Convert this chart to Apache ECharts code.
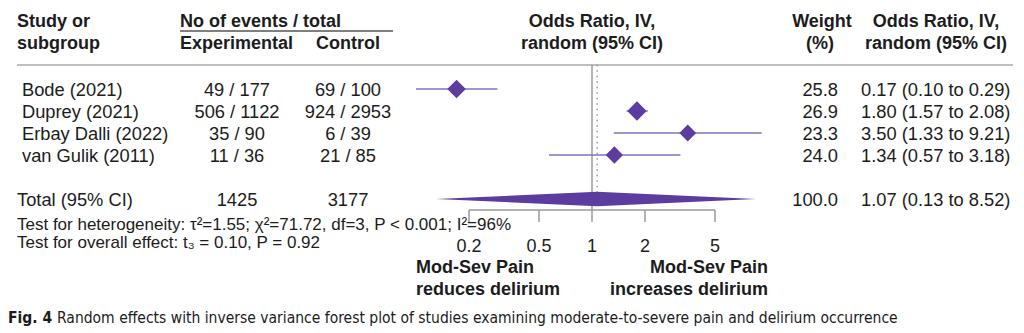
<!DOCTYPE html>
<html><head><meta charset="utf-8">
<script src="https://cdn.jsdelivr.net/npm/echarts@6/dist/echarts.min.js"></script>
<style>html,body{margin:0;padding:0;background:#fff}#c{width:1024px;height:333px}</style>
</head><body><div id="c"></div>
<script>
// ---- data ----
const studies = ['Bode (2021)', 'Duprey (2021)', 'Erbay Dalli (2022)', 'van Gulik (2011)'];
const expEvents = ['49 / 177', '506 / 1122', '35 / 90', '11 / 36'];
const ctrlEvents = ['69 / 100', '924 / 2953', '6 / 39', '21 / 85'];
const orEst = [0.17, 1.80, 3.50, 1.34];
const orLo = [0.10, 1.57, 1.33, 0.57];
const orHi = [0.29, 2.08, 9.21, 3.18];
const weights = [25.8, 26.9, 23.3, 24.0];
const orText = ['0.17 (0.10 to 0.29)', '1.80 (1.57 to 2.08)', '3.50 (1.33 to 9.21)', '1.34 (0.57 to 3.18)'];
const totalLabel = 'Total (95% CI)';
const totalExp = '1425';
const totalCtrl = '3177';
const totalWeight = '100.0';
const totalEst = 1.07, totalLo = 0.13, totalHi = 8.52;
const totalOrText = '1.07 (0.13 to 8.52)';
const heterogeneity = 'Test for heterogeneity: τ²=1.55; χ²=71.72, df=3, P < 0.001; I²=96%';
const overallEffect = 'Test for overall effect: t₃ = 0.10, P = 0.92';
const axisTicks = [0.2, 0.5, 1, 2, 5];
const axisTickLabels = ['0.2', '0.5', '1', '2', '5'];
const leftNote = ['Mod-Sev Pain', 'reduces delirium'];
const rightNote = ['Mod-Sev Pain', 'increases delirium'];
const caption = 'Random effects with inverse variance forest plot of studies examining moderate-to-severe pain and delirium occurrence';

// ---- styles ----
const FONT = '"Liberation Sans", Arial, sans-serif';
const TXT = '#1c1c1c';
const PURPLE = '#5c3c9e';
const PURPLE_LINE = '#8270c0';
const GREY = '#9a9a9a';
const TOTAL_ROW = 5;
const Y_MIN = -1.1, Y_MAX = 5.5;

const chart = echarts.init(document.getElementById('c'), null, {renderer: 'svg'});

const ciData = studies.map((s, i) => [orLo[i], i, orHi[i]]);
const ptData = studies.map((s, i) => [orEst[i], i, weights[i]]);

chart.setOption({
  animation: false,
  grid: {left: 363, width: 458, top: 64.8, height: 145.2},
  xAxis: {type: 'log', logBase: 10, min: 0.05, max: 20, show: false},
  yAxis: {type: 'value', inverse: true, min: Y_MIN, max: Y_MAX, show: false},
  series: [
    { // reference line at OR = 1
      type: 'custom', data: [[1, Y_MIN, Y_MAX]], encode: {x: 0, y: [1, 2]},
      renderItem(p, api) {
        const a = api.coord([api.value(0), api.value(1)]), b = api.coord([api.value(0), api.value(2)]);
        return {type: 'line', shape: {x1: a[0], y1: a[1], x2: b[0], y2: b[1]}, style: {stroke: GREY, lineWidth: 1.5}};
      }
    },
    { // dotted line at pooled estimate
      type: 'custom', data: [[totalEst, Y_MIN, TOTAL_ROW - 0.33]], encode: {x: 0, y: [1, 2]},
      renderItem(p, api) {
        const a = api.coord([api.value(0), api.value(1)]), b = api.coord([api.value(0), api.value(2)]);
        return {type: 'line', shape: {x1: a[0], y1: a[1], x2: b[0], y2: b[1]}, style: {stroke: '#8a8a8a', lineWidth: 1.3, lineDash: [1.5, 4]}};
      }
    },
    { // CI lines
      type: 'custom', data: ciData, encode: {x: [0, 2], y: 1},
      renderItem(p, api) {
        const a = api.coord([api.value(0), api.value(1)]), b = api.coord([api.value(2), api.value(1)]);
        return {type: 'line', shape: {x1: a[0], y1: a[1], x2: b[0], y2: b[1]}, style: {stroke: PURPLE_LINE, lineWidth: 1.3}};
      }
    },
    { // point estimates
      type: 'scatter', data: ptData, symbol: 'diamond',
      symbolSize: v => v[2] * 0.72,
      itemStyle: {color: PURPLE, opacity: 1}
    },
    { // pooled diamond
      type: 'custom', data: [[totalLo, TOTAL_ROW, totalEst, totalHi]], encode: {x: [0, 2, 3], y: 1},
      renderItem(p, api) {
        const r = api.value(1), h = 0.33;
        const pts = [
          api.coord([api.value(0), r]), api.coord([api.value(2), r - h]),
          api.coord([api.value(3), r]), api.coord([api.value(2), r + h])
        ];
        return {type: 'polygon', shape: {points: pts}, style: {fill: PURPLE}};
      }
    },
    { // bottom axis with ticks
      type: 'custom', data: axisTicks.map((t, i) => [t, Y_MAX, i]), encode: {x: 0, y: 1},
      renderItem(p, api) {
        const c = api.coord([api.value(0), api.value(1)]);
        const children = [
          {type: 'line', shape: {x1: c[0], y1: c[1], x2: c[0], y2: c[1] + 12}, style: {stroke: GREY, lineWidth: 1.5}},
          {type: 'text', style: {text: axisTickLabels[api.value(2)], x: c[0], y: c[1] + 36, textAlign: 'center', textVerticalAlign: 'middle', font: '18px ' + FONT, fill: TXT}}
        ];
        if (p.dataIndex === 0) {
          const e = api.coord([axisTicks[axisTicks.length - 1], api.value(1)]);
          children.push({type: 'line', shape: {x1: c[0], y1: c[1], x2: e[0], y2: c[1]}, style: {stroke: GREY, lineWidth: 1.5}});
        }
        return {type: 'group', children};
      }
    }
  ]
});

// ---- table text ----
const rowY = r => chart.convertToPixel({gridIndex: 0}, [1, r])[1];
const xAt = v => chart.convertToPixel({gridIndex: 0}, [v, 0])[0];
const g = [];
function txt(t, x, y, opt) {
  opt = opt || {};
  g.push({type: 'text', silent: true, style: {
    text: t, x, y, textAlign: opt.align || 'left', textVerticalAlign: 'middle',
    font: (opt.bold ? 'bold ' : '') + (opt.size || 18) + 'px ' + (opt.family || FONT), fill: TXT
  }});
}
// headers
txt('Study or', 17, 21, {bold: true});
txt('subgroup', 17, 43, {bold: true});
txt('No of events / total', 180, 21, {bold: true});
txt('Experimental', 180, 43, {bold: true});
txt('Control', 316, 43, {bold: true});
txt('Odds Ratio, IV,', 592, 21, {bold: true, align: 'center'});
txt('random (95% CI)', 592, 43, {bold: true, align: 'center'});
txt('Weight', 822, 21, {bold: true, align: 'center'});
txt('(%)', 820, 43, {bold: true, align: 'center'});
txt('Odds Ratio, IV,', 936, 21, {bold: true, align: 'center'});
txt('random (95% CI)', 936, 43, {bold: true, align: 'center'});
g.push({type: 'line', silent: true, shape: {x1: 180, y1: 31, x2: 393, y2: 31}, style: {stroke: '#555', lineWidth: 1.3}});
g.push({type: 'line', silent: true, shape: {x1: 17, y1: 65, x2: 1013, y2: 65}, style: {stroke: '#aaa', lineWidth: 1.5}});
// rows
studies.forEach((s, i) => {
  const y = rowY(i);
  txt(s, 22, y, {size: 18.3});
  txt(expEvents[i], 237, y, {align: 'center', size: 18.3});
  txt(ctrlEvents[i], 348, y, {align: 'center', size: 18.3});
  txt(weights[i].toFixed(1), 838, y, {align: 'right', size: 18.3});
  txt(orText[i], 861, y, {size: 18.3});
});
const ty = rowY(TOTAL_ROW);
txt(totalLabel, 17, ty, {size: 18.3});
txt(totalExp, 237, ty, {align: 'center', size: 18.3});
txt(totalCtrl, 348, ty, {align: 'center', size: 18.3});
txt(totalWeight, 838, ty, {align: 'right', size: 18.3});
txt(totalOrText, 861, ty, {size: 18.3});
txt(heterogeneity, 17, 224, {size: 17});
txt(overallEffect, 17, 242, {size: 17});
// direction notes
txt(leftNote[0], xAt(0.1), 267, {bold: true});
txt(leftNote[1], xAt(0.1), 289, {bold: true});
txt(rightNote[0], xAt(10), 267, {bold: true, align: 'right'});
txt(rightNote[1], xAt(10), 289, {bold: true, align: 'right'});
// caption
const CAP = '"Liberation Sans Narrow", "DejaVu Sans Condensed", sans-serif';
txt('Fig. 4', 8, 318, {bold: true, size: 15.5, family: CAP});
txt(caption, 57, 318, {size: 15.5, family: CAP});
chart.setOption({graphic: g});
</script>
</body></html>
